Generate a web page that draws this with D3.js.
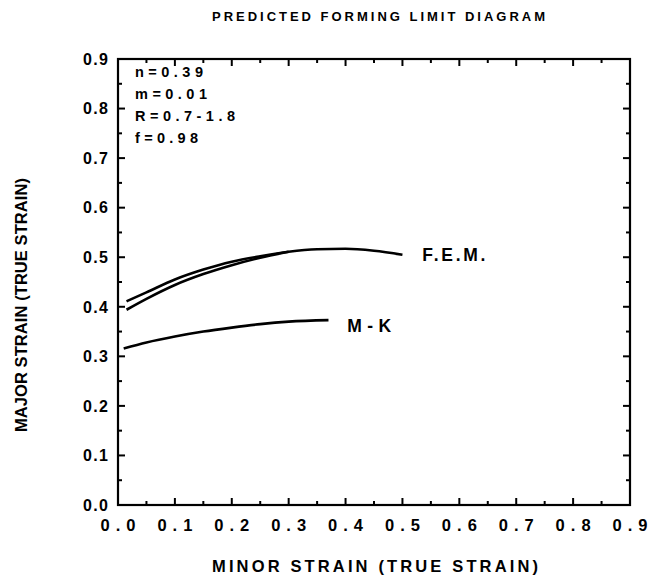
<!DOCTYPE html>
<html>
<head>
<meta charset="utf-8">
<script src="https://cdn.jsdelivr.net/npm/d3@7"></script>
<style>
  body { margin: 0; background: #fff; }
  svg { display: block; font-family: "Liberation Sans", Arial, sans-serif; font-weight: bold; }
</style>
</head>
<body>
<svg id="chart" width="656" height="583"></svg>
<script>
// data: [minor strain, major strain]
const femUpper = [[0.015,0.411],[0.05,0.429],[0.1,0.455],[0.15,0.475],[0.2,0.491],[0.25,0.502],[0.3,0.511],[0.35,0.516],[0.4,0.517],[0.45,0.513],[0.5,0.505]];
const femLower = [[0.015,0.394],[0.05,0.416],[0.1,0.444],[0.15,0.466],[0.2,0.484],[0.25,0.499],[0.3,0.511]];
const mkCurve = [[0.01,0.316],[0.05,0.328],[0.1,0.340],[0.15,0.350],[0.2,0.358],[0.25,0.365],[0.3,0.370],[0.37,0.373]];
const tickValues = [0.0,0.1,0.2,0.3,0.4,0.5,0.6,0.7,0.8,0.9];
const minorValues = [0.05,0.15,0.25,0.35,0.45,0.55,0.65,0.75,0.85];
const params = ["n=0.39","m=0.01","R=0.7-1.8","f=0.98"];
const paramWidths = [68,72,100,63];
const curveLabels = [{text:"F.E.M.", x:0.535, y:0.505, w:63}, {text:"M - K", x:0.403, y:0.362, w:44}];

const svg = d3.select("#chart");
const mLeft = 118, mTop = 59, width = 512, height = 446;

const x = d3.scaleLinear().domain([0, 0.9]).range([mLeft, mLeft + width]);
const y = d3.scaleLinear().domain([0, 0.9]).range([mTop + height, mTop]);

// frame
svg.append("rect")
  .attr("x", mLeft).attr("y", mTop).attr("width", width).attr("height", height)
  .attr("fill", "none").attr("stroke", "#000").attr("stroke-width", 2.2);

// inward ticks on all four sides
const g = svg.append("g").attr("stroke", "#000").attr("stroke-width", 2);
function ticks(vals, len) {
  vals.forEach(v => {
    g.append("line").attr("x1", x(v)).attr("x2", x(v)).attr("y1", mTop + height).attr("y2", mTop + height - len);
    g.append("line").attr("x1", x(v)).attr("x2", x(v)).attr("y1", mTop).attr("y2", mTop + len);
    g.append("line").attr("y1", y(v)).attr("y2", y(v)).attr("x1", mLeft).attr("x2", mLeft + len);
    g.append("line").attr("y1", y(v)).attr("y2", y(v)).attr("x1", mLeft + width).attr("x2", mLeft + width - len);
  });
}
ticks(tickValues.slice(1, -1), 7);
ticks(minorValues, 4);

// tick labels
svg.append("g").selectAll("text").data(tickValues).join("text")
  .attr("x", d => x(d)).attr("y", 531)
  .attr("text-anchor", "middle").attr("font-size", 16.5)
  .attr("textLength", 35).attr("lengthAdjust", "spacing")
  .text(d => d.toFixed(1));

svg.append("g").selectAll("text").data(tickValues).join("text")
  .attr("x", 108).attr("y", d => y(d)).attr("dy", "0.36em")
  .attr("text-anchor", "end").attr("font-size", 16)
  .attr("textLength", 25).attr("lengthAdjust", "spacing")
  .text(d => d.toFixed(1));

// titles
svg.append("text").attr("x", 212).attr("y", 21).attr("font-size", 13)
  .attr("textLength", 333).attr("lengthAdjust", "spacing")
  .text("PREDICTED  FORMING  LIMIT  DIAGRAM");

svg.append("text").attr("x", 212).attr("y", 572).attr("font-size", 16.5)
  .attr("textLength", 326).attr("lengthAdjust", "spacing")
  .text("MINOR  STRAIN  (TRUE  STRAIN)");

svg.append("text").attr("transform", "translate(27,432) rotate(-90)").attr("font-size", 16.5)
  .attr("textLength", 254).attr("lengthAdjust", "spacing")
  .text("MAJOR  STRAIN  (TRUE  STRAIN)");

// parameters
svg.append("g").selectAll("text").data(params).join("text")
  .attr("x", 135).attr("y", (d, i) => 77 + i * 22)
  .attr("font-size", 14.5)
  .attr("textLength", (d, i) => paramWidths[i]).attr("lengthAdjust", "spacing")
  .text(d => d);

// curves
const line = d3.line().x(d => x(d[0])).y(d => y(d[1])).curve(d3.curveMonotoneX);
[femUpper, femLower, mkCurve].forEach(c => {
  svg.append("path").attr("d", line(c))
    .attr("fill", "none").attr("stroke", "#000").attr("stroke-width", 2.6)
    .attr("stroke-linecap", "butt");
});

svg.append("g").selectAll("text").data(curveLabels).join("text")
  .attr("x", d => x(d.x)).attr("y", d => y(d.y)).attr("dy", "0.36em")
  .attr("font-size", 17.5)
  .attr("textLength", d => d.w).attr("lengthAdjust", "spacing")
  .text(d => d.text);
</script>
</body>
</html>
